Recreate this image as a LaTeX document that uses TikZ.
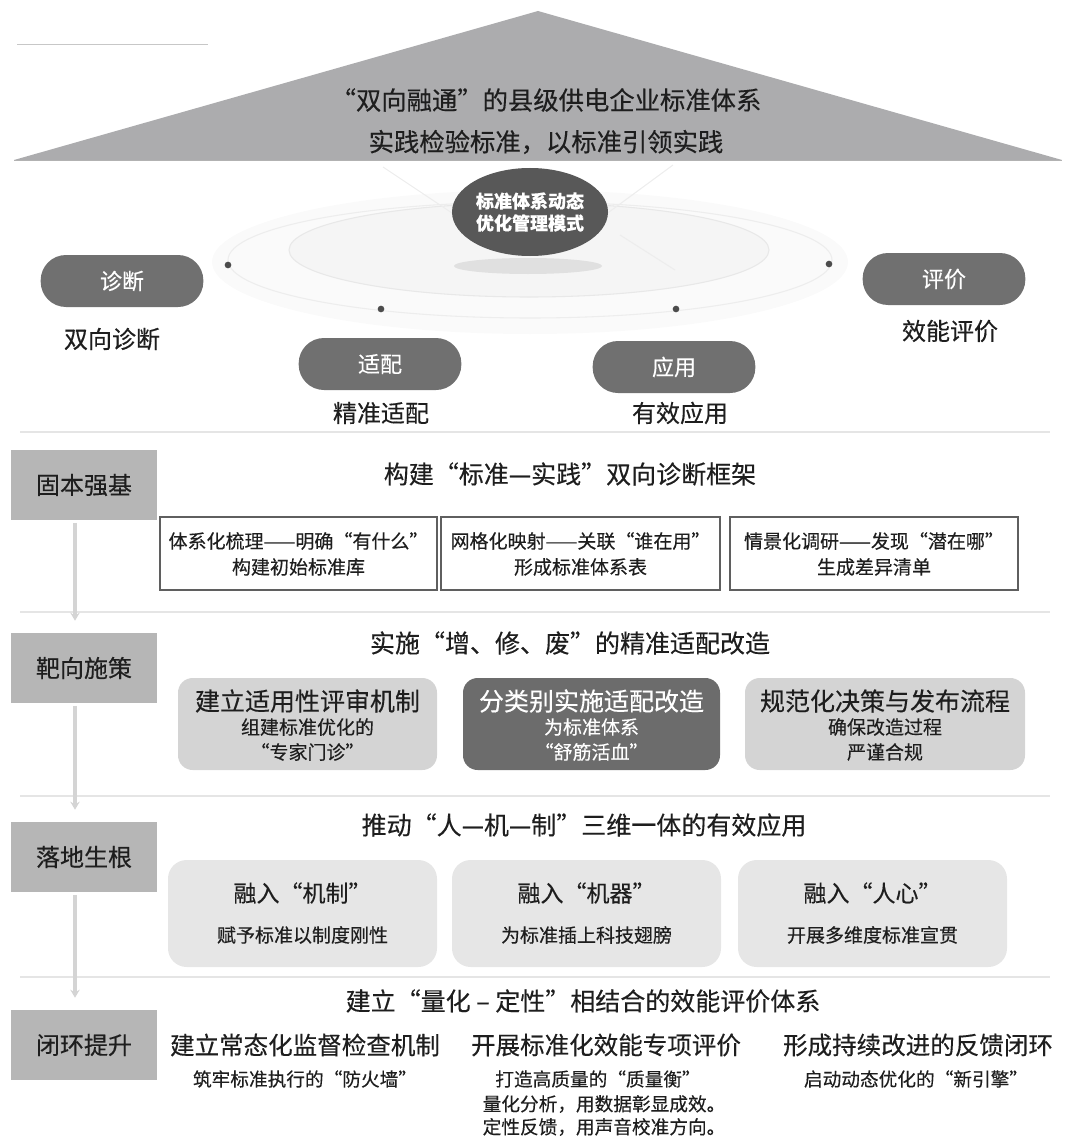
\documentclass[tikz,border=0pt]{standalone}
\usepackage{fontspec}
\setmainfont{Noto Sans CJK SC}[FakeBold=0.3]
\usetikzlibrary{arrows.meta,shapes.geometric}

\definecolor{roofgray}{RGB}{172,172,174}
\definecolor{pillgray}{RGB}{112,112,112}
\definecolor{hubgray}{RGB}{88,88,88}
\definecolor{sidegray}{RGB}{182,182,182}
\definecolor{inkgray}{RGB}{30,30,30}
\definecolor{lightbox}{RGB}{212,212,212}
\definecolor{darkbox}{RGB}{108,108,108}
\definecolor{palebox}{RGB}{230,230,230}
\definecolor{framegray}{RGB}{95,95,95}
\definecolor{fadegray}{RGB}{212,212,212}

\tikzset{
  rooftxt/.style={inner sep=0pt, text=inkgray, font=\fontsize{19pt}{20pt}\selectfont},
  hubnode/.style={ellipse, fill=hubgray, inner sep=0pt, minimum width=117pt, minimum height=66pt,
    align=center, text=white, font=\fontsize{13.5pt}{16.5pt}\selectfont\bfseries},
  pill/.style={fill=pillgray, rounded corners=19pt, minimum width=122pt, minimum height=39pt,
    inner sep=0pt, text=white, font=\fontsize{16.5pt}{18pt}\selectfont},
  pilltag/.style={inner sep=0pt, text=inkgray, font=\fontsize{18pt}{20pt}\selectfont},
  orbitdot/.style={circle, fill=black!70, inner sep=0pt, minimum size=5pt},
  sidebox/.style={fill=sidegray, minimum width=109.5pt, minimum height=52.5pt, inner sep=0pt,
    text=inkgray, font=\fontsize{18pt}{20pt}\selectfont},
  sidelink/.style={draw=fadegray, line width=2.5pt, -{Stealth[length=6pt,width=7pt]},
    shorten <=2pt, shorten >=9pt},
  sectitle/.style={inner sep=0pt, text=inkgray, font=\fontsize{18.75pt}{20pt}\selectfont},
  framebox/.style={draw=framegray, line width=0.8pt, fill=white, minimum height=54.75pt, inner sep=0pt},
  frametxt/.style={inner sep=0pt, text=inkgray, font=\fontsize{14.25pt}{16pt}\selectfont},
  lightcard/.style={fill=lightbox, rounded corners=11pt, minimum height=69pt, inner sep=0pt},
  darkcard/.style={fill=darkbox, rounded corners=11pt, minimum height=69pt, inner sep=0pt},
  bigline/.style={inner sep=0pt, text=inkgray, font=\fontsize{18.75pt}{20pt}\selectfont},
  smallline/.style={inner sep=0pt, text=inkgray, font=\fontsize{14.25pt}{16pt}\selectfont},
  palecard/.style={fill=palebox, rounded corners=14pt, minimum height=80.25pt, inner sep=0pt},
  midline/.style={inner sep=0pt, text=inkgray, font=\fontsize{17.25pt}{19pt}\selectfont},
  headline/.style={inner sep=0pt, text=inkgray, font=\fontsize{18.4pt}{20pt}\selectfont},
  subline/.style={inner sep=0pt, text=inkgray, font=\fontsize{14pt}{15pt}\selectfont},
  rule/.style={draw=black!10, line width=0.8pt}
}

\begin{document}
\begin{tikzpicture}[x=0.75pt,y=0.75pt,yscale=-1,xscale=1]
        \useasboundingbox (0,0) rectangle (1068,1145);

        %Straight Lines: faint mark top left
        \draw [draw=black!22, line width=0.5pt] (17,44) -- (208,44) ;

        %Shape: Triangle (roof)
        \fill [roofgray] (538,11) -- (1062,160) -- (14,160) -- cycle ;
        \draw [draw=black!30, line width=0.6pt] (14,160) -- (1062,160) ;

        % Text Node
        \node [rooftxt] (roofa) at (546,100) {“双向融通”的县级供电企业标准体系};
        % Text Node
        \node [rooftxt] (roofb) at (546,142) {实践检验标准，以标准引领实践};

        %Shape: Ellipse (faint orbits behind the hub)
        \fill [black!2] (530,262) ellipse (318 and 72) ;
        \draw [draw=black!7, line width=0.8pt] (530,260) ellipse (302 and 58) ;
        \draw [draw=black!9, fill=black!4, line width=0.8pt] (529,250) ellipse (240 and 47) ;
        \draw [draw=black!7, line width=0.8pt] (383,167) -- (455,215) ;
        \draw [draw=black!7, line width=0.8pt] (673,165) -- (605,215) ;
        \draw [draw=black!7, line width=0.8pt] (620,235) -- (675,270) ;
        \fill [black!12] (528,266) ellipse (74 and 8) ;

        %Shape: Ellipse (hub)
        \node [hubnode] (hub) at (530,212) {标准体系动态\\优化管理模式};

        % orbit dots
        \node [orbitdot] (dota) at (228,265) {};
        \node [orbitdot] (dotb) at (381,309) {};
        \node [orbitdot] (dotc) at (676,309) {};
        \node [orbitdot] (dotd) at (829,264) {};

        % pills and their captions
        \node [pill] (zhenduan) at (122,281) {诊断};
        \node [pilltag] (zhenduantag) at (112,339) {双向诊断};
        \node [pill] (shipei) at (380,364) {适配};
        \node [pilltag] (shipeitag) at (381,413) {精准适配};
        \node [pill] (yingyong) at (674,367) {应用};
        \node [pilltag] (yingyongtag) at (680,413) {有效应用};
        \node [pill] (pingjia) at (944,279) {评价};
        \node [pilltag] (pingjiatag) at (950,331) {效能评价};

        %Straight Lines: faint separators
        \draw [rule] (20,432) -- (1050,432) ;
        \draw [rule] (20,612) -- (1050,612) ;
        \draw [rule] (20,796) -- (1050,796) ;
        \draw [rule] (20,977) -- (1050,977) ;

        % left column
        \node [sidebox] (gubenqiangji) at (84,485) {固本强基};
        \node [sidebox] (baxiangshice) at (84,668) {靶向施策};
        \node [sidebox] (luodishenggen) at (84,857) {落地生根};
        \node [sidebox] (bihuantisheng) at (84,1045) {闭环提升};

        \draw [sidelink] ([xshift=-6.75pt]gubenqiangji.south) -- ([xshift=-6.75pt]baxiangshice.north) ;
        \draw [sidelink] ([xshift=-6.75pt]baxiangshice.south) -- ([xshift=-6.75pt]luodishenggen.north) ;
        \draw [sidelink] ([xshift=-6.75pt]luodishenggen.south) -- ([xshift=-6.75pt]bihuantisheng.north) ;

        % row 1
        \node [sectitle] (titlea) at (570,474) {构建“标准—实践”双向诊断框架};
        \node [framebox, minimum width=207.75pt] (boxaa) at (298.5,553.5) {};
        \node [framebox, minimum width=209.25pt] (boxab) at (580.5,553.5) {};
        \node [framebox, minimum width=216pt] (boxac) at (874,553.5) {};
        \node [frametxt] (txtaa) at (298.5,541) {体系化梳理——明确“有什么”};
        \node [frametxt] (txtab) at (298.5,567) {构建初始标准库};
        \node [frametxt] (txtba) at (580.5,541) {网格化映射——关联“谁在用”};
        \node [frametxt] (txtbb) at (580.5,567) {形成标准体系表};
        \node [frametxt] (txtca) at (874,541) {情景化调研——发现“潜在哪”};
        \node [frametxt] (txtcb) at (874,567) {生成差异清单};

        % row 2
        \node [sectitle] (titleb) at (570,643) {实施“增、修、废”的精准适配改造};
        \node [lightcard, minimum width=194.25pt] (cardaa) at (307.5,724) {};
        \node [darkcard, minimum width=192.75pt] (cardab) at (591.5,724) {};
        \node [lightcard, minimum width=210pt] (cardac) at (885,724) {};
        \node [bigline] (linaa) at (307.5,701) {建立适用性评审机制};
        \node [smallline] (linab) at (307.5,727) {组建标准优化的};
        \node [smallline] (linac) at (307.5,752) {“专家门诊”};
        \node [bigline, text=white] (linba) at (591.5,701) {分类别实施适配改造};
        \node [smallline, text=white] (linbb) at (591.5,727) {为标准体系};
        \node [smallline, text=white] (linbc) at (591.5,752) {“舒筋活血”};
        \node [bigline] (linca) at (885,701) {规范化决策与发布流程};
        \node [smallline] (lincb) at (885,727) {确保改造过程};
        \node [smallline] (lincc) at (885,752) {严谨合规};

        % row 3
        \node [sectitle] (titlec) at (584,825) {推动“人—机—制”三维一体的有效应用};
        \node [palecard, minimum width=201.75pt] (paleaa) at (302.5,913.5) {};
        \node [palecard, minimum width=201.75pt] (paleab) at (586.5,913.5) {};
        \node [palecard, minimum width=201.75pt] (paleac) at (872.5,913.5) {};
        \node [midline] (midaa) at (302.5,893) {融入“机制”};
        \node [smallline] (midab) at (302.5,935) {赋予标准以制度刚性};
        \node [midline] (midba) at (586.5,893) {融入“机器”};
        \node [smallline] (midbb) at (586.5,935) {为标准插上科技翅膀};
        \node [midline] (midca) at (872.5,893) {融入“人心”};
        \node [smallline] (midcb) at (872.5,935) {开展多维度标准宣贯};

        % row 4
        \node [sectitle] (titled) at (583,1001) {建立“量化 – 定性”相结合的效能评价体系};
        \node [headline] (heada) at (305,1045) {建立常态化监督检查机制};
        \node [subline] (suba) at (305,1079) {筑牢标准执行的“防火墙”};
        \node [headline] (headb) at (606,1045) {开展标准化效能专项评价};
        \node [subline] (subba) at (598,1079) {打造高质量的“质量衡”};
        \node [subline] (subbb) at (604,1104) {量化分析，用数据彰显成效。};
        \node [subline] (subbc) at (604,1127) {定性反馈，用声音校准方向。};
        \node [headline] (headc) at (918,1045) {形成持续改进的反馈闭环};
        \node [subline] (subc) at (916,1079) {启动动态优化的“新引擎”};

\end{tikzpicture}
\end{document}
